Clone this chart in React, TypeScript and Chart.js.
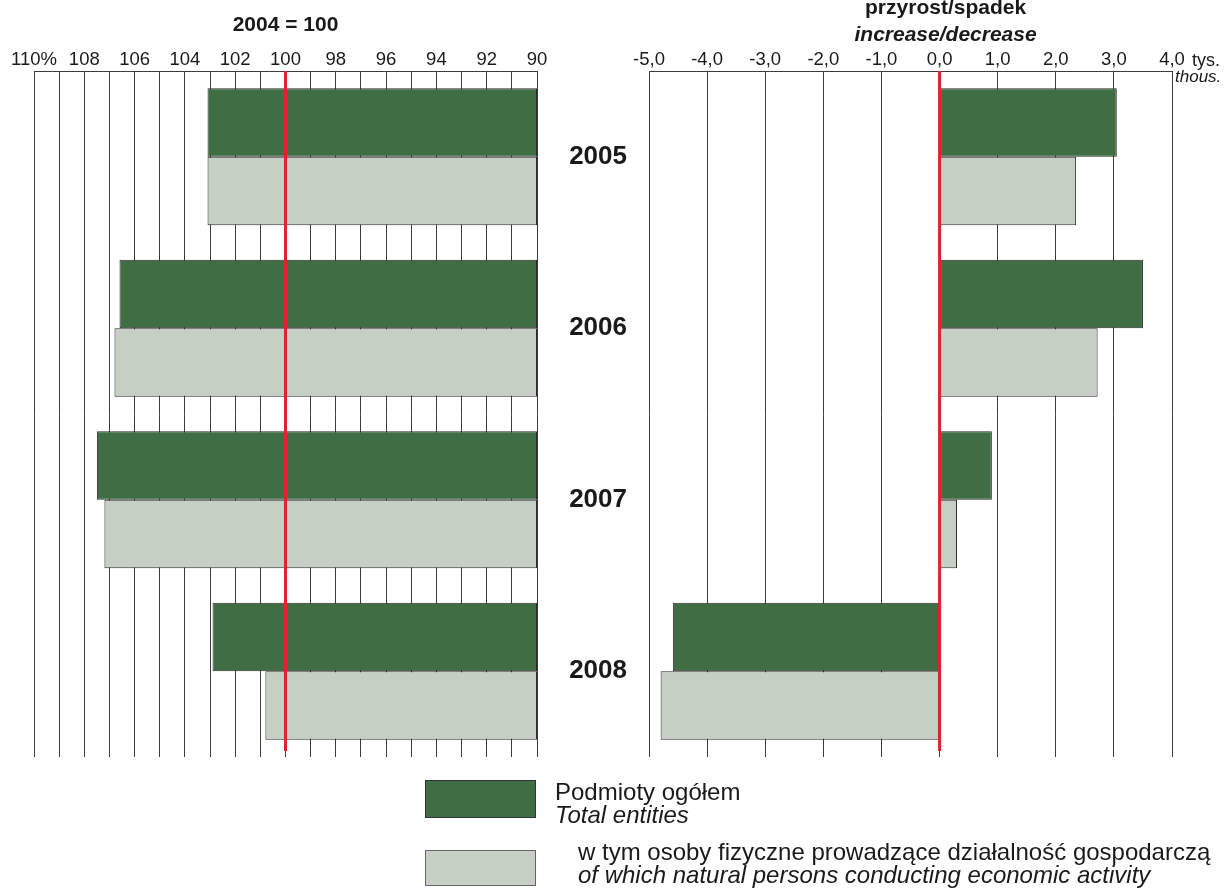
import React, { useEffect, useRef } from "react";
import { Chart, registerables } from "chart.js";

Chart.register(...registerables);

// ---- data ----
const years = ["2005", "2006", "2007", "2008"];
const indexTotal = [103.1, 106.6, 107.5, 102.9];
const indexPersons = [103.1, 106.8, 107.2, 100.8];
const changeTotal = [3.05, 3.5, 0.9, -4.59];
const changePersons = [2.35, 2.72, 0.3, -4.8];

const indexTickValues = [110, 108, 106, 104, 102, 100, 98, 96, 94, 92, 90];
const indexTickLabels = ["110%", "108", "106", "104", "102", "100", "98", "96", "94", "92", "90"];
const changeTickValues = [-5, -4, -3, -2, -1, 0, 1, 2, 3, 4];
const changeTickLabels = ["-5,0", "-4,0", "-3,0", "-2,0", "-1,0", "0,0", "1,0", "2,0", "3,0", "4,0"];

const seriesNames = ["Podmioty ogółem", "w tym osoby fizyczne prowadzące działalność gospodarczą"];
const seriesNamesEn = ["Total entities", "of which natural persons conducting economic activity"];

// ---- styles ----
const FONT = "Arial, 'Liberation Sans', Helvetica, sans-serif";
const DARK = "#3f6e45";
const LIGHT = "#c5cfc3";
const RED = "#e3232b";
const GRID = "#3c3c3c";
const TEXT = "#1a1a1a";
const TICK_SIZE = 18.5;

Chart.defaults.font.family = FONT;

const refLine = (value: number) => ({
  id: "refLine",
  afterDatasetsDraw(chart: any) {
    const { ctx, chartArea } = chart;
    const x = chart.scales.x.getPixelForValue(value);
    ctx.save();
    ctx.strokeStyle = RED;
    ctx.lineWidth = 3;
    ctx.beginPath();
    ctx.moveTo(x, chartArea.top);
    ctx.lineTo(x, chartArea.bottom - 6);
    ctx.stroke();
    ctx.restore();
  },
});

const leftTitle = {
  id: "leftTitle",
  afterDraw(chart: any) {
    const { ctx, chartArea } = chart;
    ctx.save();
    ctx.fillStyle = TEXT;
    ctx.font = `bold 21px ${FONT}`;
    ctx.textAlign = "center";
    ctx.textBaseline = "alphabetic";
    ctx.fillText("2004 = 100", (chartArea.left + chartArea.right) / 2, 31);
    ctx.restore();
  },
};

const rightTexts = {
  id: "rightTexts",
  afterDraw(chart: any) {
    const { ctx } = chart;
    const x0 = chart.scales.x.getPixelForValue(0);
    const xr = chart.scales.x.getPixelForValue(4);
    ctx.save();
    ctx.fillStyle = TEXT;
    ctx.textAlign = "center";
    ctx.textBaseline = "alphabetic";
    ctx.font = `bold 21px ${FONT}`;
    ctx.fillText("przyrost/spadek", x0 + 6, 14);
    ctx.font = `italic bold 21px ${FONT}`;
    ctx.fillText("increase/decrease", x0 + 6, 41);
    ctx.textAlign = "left";
    ctx.font = `18px ${FONT}`;
    ctx.fillText("tys.", xr + 20, 66);
    ctx.font = `italic 17px ${FONT}`;
    ctx.fillText("thous.", xr + 3, 82);
    ctx.restore();
  },
};

const barStyle = {
  borderWidth: 1,
  borderColor: "#2b2b2b",
  borderSkipped: false,
  categoryPercentage: 0.8,
  barPercentage: 1.0,
};

export default function App() {
  const leftRef = useRef<HTMLCanvasElement>(null);
  const rightRef = useRef<HTMLCanvasElement>(null);

  useEffect(() => {
    const left = new Chart(leftRef.current as HTMLCanvasElement, {
      type: "bar",
      data: {
        labels: years,
        datasets: [
          { label: seriesNames[0], data: indexTotal.map((v) => [90, v]), backgroundColor: DARK, ...barStyle } as any,
          { label: seriesNames[1], data: indexPersons.map((v) => [90, v]), backgroundColor: LIGHT, ...barStyle } as any,
        ],
      },
      options: {
        indexAxis: "y",
        animation: false,
        responsive: false,
        devicePixelRatio: 1,
        layout: { padding: { left: 34, right: 23, top: 47, bottom: 134 } },
        plugins: { legend: { display: false }, tooltip: { enabled: false }, title: { display: false } },
        scales: {
          x: {
            type: "linear",
            position: "top",
            reverse: true,
            min: 90,
            max: 110,
            ticks: {
              stepSize: 1,
              autoSkip: false,
              maxRotation: 0,
              padding: 0,
              color: TEXT,
              font: { size: TICK_SIZE },
              callback: (v: any) => {
                const i = indexTickValues.indexOf(Number(v));
                return i >= 0 ? indexTickLabels[i] : "";
              },
            },
            grid: { color: GRID, lineWidth: 1, drawTicks: false },
            border: { display: true, color: GRID, width: 1 },
            afterFit: (s: any) => {
              s.height = 24;
            },
          },
          y: { display: false },
        },
      } as any,
      plugins: [refLine(100), leftTitle],
    });

    const right = new Chart(rightRef.current as HTMLCanvasElement, {
      type: "bar",
      data: {
        labels: years,
        datasets: [
          { label: seriesNamesEn[0], data: changeTotal, backgroundColor: DARK, ...barStyle } as any,
          { label: seriesNamesEn[1], data: changePersons, backgroundColor: LIGHT, ...barStyle } as any,
        ],
      },
      options: {
        indexAxis: "y",
        animation: false,
        responsive: false,
        devicePixelRatio: 1,
        layout: { padding: { left: 0, right: 54, top: 47, bottom: 134 } },
        plugins: { legend: { display: false }, tooltip: { enabled: false }, title: { display: false } },
        scales: {
          x: {
            type: "linear",
            position: "top",
            min: -5,
            max: 4,
            ticks: {
              stepSize: 1,
              autoSkip: false,
              maxRotation: 0,
              padding: 0,
              color: TEXT,
              font: { size: TICK_SIZE },
              callback: (v: any) => {
                const i = changeTickValues.indexOf(Number(v));
                return i >= 0 ? changeTickLabels[i] : "";
              },
            },
            grid: { color: GRID, lineWidth: 1, drawTicks: false },
            border: { display: true, color: GRID, width: 1 },
            afterFit: (s: any) => {
              s.height = 24;
            },
          },
          y: {
            position: "left",
            grid: { display: false, drawTicks: false },
            border: { display: false },
            ticks: { padding: 22, color: TEXT, font: { size: 26, weight: "bold" } },
            afterFit: (s: any) => {
              s.width = 89;
            },
          },
        },
      } as any,
      plugins: [refLine(0), rightTexts],
    });

    return () => {
      left.destroy();
      right.destroy();
    };
  }, []);

  const legendText: React.CSSProperties = {
    position: "absolute",
    fontFamily: FONT,
    fontSize: 24,
    lineHeight: "23px",
    color: TEXT,
    whiteSpace: "nowrap",
  };

  return (
    <div style={{ position: "absolute", left: 0, top: 0, width: 1226, height: 891, background: "#fff", overflow: "hidden" }}>
      <canvas ref={leftRef} width={560} height={891} style={{ position: "absolute", left: 0, top: 0, width: 560, height: 891 }} />
      <canvas ref={rightRef} width={666} height={891} style={{ position: "absolute", left: 560, top: 0, width: 666, height: 891 }} />
      <div style={{ position: "absolute", left: 425, top: 780, width: 111, height: 38, boxSizing: "border-box", background: DARK, border: "1px solid #333" }} />
      <div style={{ ...legendText, left: 555, top: 780 }}>
        <div>{seriesNames[0]}</div>
        <div style={{ fontStyle: "italic" }}>{seriesNamesEn[0]}</div>
      </div>
      <div style={{ position: "absolute", left: 425, top: 850, width: 111, height: 36, boxSizing: "border-box", background: LIGHT, border: "1px solid #666" }} />
      <div style={{ ...legendText, left: 578, top: 840 }}>
        <div>{seriesNames[1]}</div>
        <div style={{ fontStyle: "italic" }}>{seriesNamesEn[1]}</div>
      </div>
    </div>
  );
}
